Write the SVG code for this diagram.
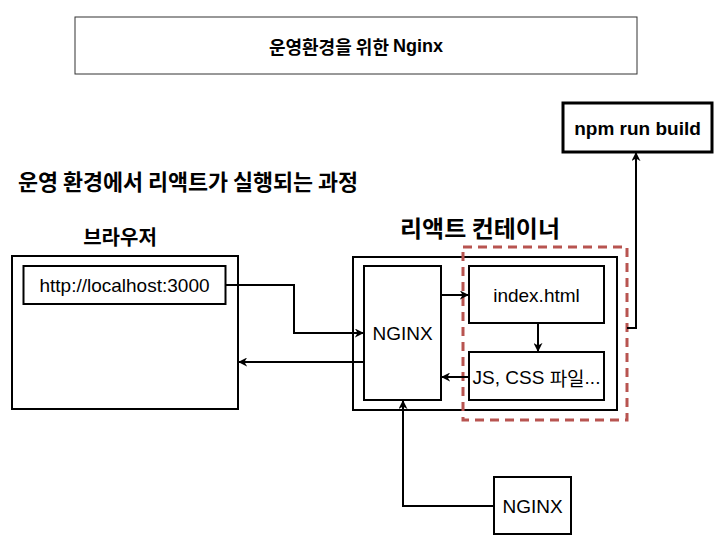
<svg xmlns="http://www.w3.org/2000/svg" width="727" height="553" viewBox="0 0 727 553">
<style>
.box{fill:#fff;stroke:#000;stroke-width:2}
.t{font-family:"Liberation Sans","Noto Sans CJK KR",sans-serif;fill:#000;text-anchor:middle;dominant-baseline:central}
.b{font-weight:bold}
.k{font-family:"Noto Sans CJK KR","Liberation Sans",sans-serif}
.c{fill:none;stroke:#000;stroke-width:2}
</style>
<defs>
<marker id="ah" viewBox="0 0 10 10" refX="9" refY="5" markerWidth="9" markerHeight="9" orient="auto" markerUnits="userSpaceOnUse">
<path d="M0,0 L10,5 L0,10 L3,5 Z" fill="#000"/>
</marker>
</defs>
<rect width="727" height="553" fill="#fff"/>
<g id="title">
<rect x="75" y="17" width="562" height="57" fill="#fff" stroke="#333" stroke-width="1"/>
<text class="t b" x="356" y="46" font-size="18"><tspan class="k">운영환경을 위한 </tspan>Nginx</text>
</g>
<g id="heading"><text class="t b k" x="188" y="180" font-size="22" textLength="340" lengthAdjust="spacingAndGlyphs">운영 환경에서 리액트가 실행되는 과정</text></g>
<g id="browser-label"><text class="t b k" x="120" y="236" font-size="20">브라우저</text></g>
<g id="browser"><rect class="box" x="12" y="256" width="226" height="153"/></g>
<g id="url"><rect class="box" x="23.5" y="266" width="202" height="38"/><text class="t" x="124.5" y="285" font-size="19">http://localhost:3000</text></g>
<g id="container-label"><text class="t b k" x="480" y="227" font-size="23" textLength="160" lengthAdjust="spacingAndGlyphs">리액트 컨테이너</text></g>
<g id="container"><rect class="box" x="353" y="257" width="264" height="153"/></g>
<g id="nginx-inner"><rect class="box" x="364" y="266" width="77" height="134"/><text class="t" x="402.5" y="333" font-size="19">NGINX</text></g>
<g id="index"><rect class="box" x="469" y="266" width="135" height="57"/><text class="t" x="536.5" y="295" font-size="19">index.html</text></g>
<g id="jscss"><rect class="box" x="469" y="352" width="135" height="48"/><text class="t" x="536.5" y="377" font-size="19">JS, CSS <tspan class="k">파일</tspan>...</text></g>
<g id="build-group"><rect x="463" y="247" width="164" height="173" fill="none" stroke="#b85450" stroke-width="3" stroke-dasharray="9 6"/></g>
<g id="npm"><rect x="563" y="103" width="149" height="49" fill="#fff" stroke="#000" stroke-width="3"/><text class="t b" x="637.5" y="128" font-size="19">npm run build</text></g>
<g id="nginx-bottom"><rect class="box" x="494" y="477" width="77" height="57"/><text class="t" x="532.5" y="506" font-size="19">NGINX</text></g>
<g id="connectors">
<path class="c" d="M225.5,285 H294 V333 H363" marker-end="url(#ah)"/>
<path class="c" d="M364,362 H239" marker-end="url(#ah)"/>
<path class="c" d="M441,295 H468" marker-end="url(#ah)"/>
<path class="c" d="M538,323 V351" marker-end="url(#ah)"/>
<path class="c" d="M469,377 H442" marker-end="url(#ah)"/>
<path class="c" d="M627,328 H636 V153" marker-end="url(#ah)"/>
<path class="c" d="M494,506 H403 V401" marker-end="url(#ah)"/>
</g>
</svg>
